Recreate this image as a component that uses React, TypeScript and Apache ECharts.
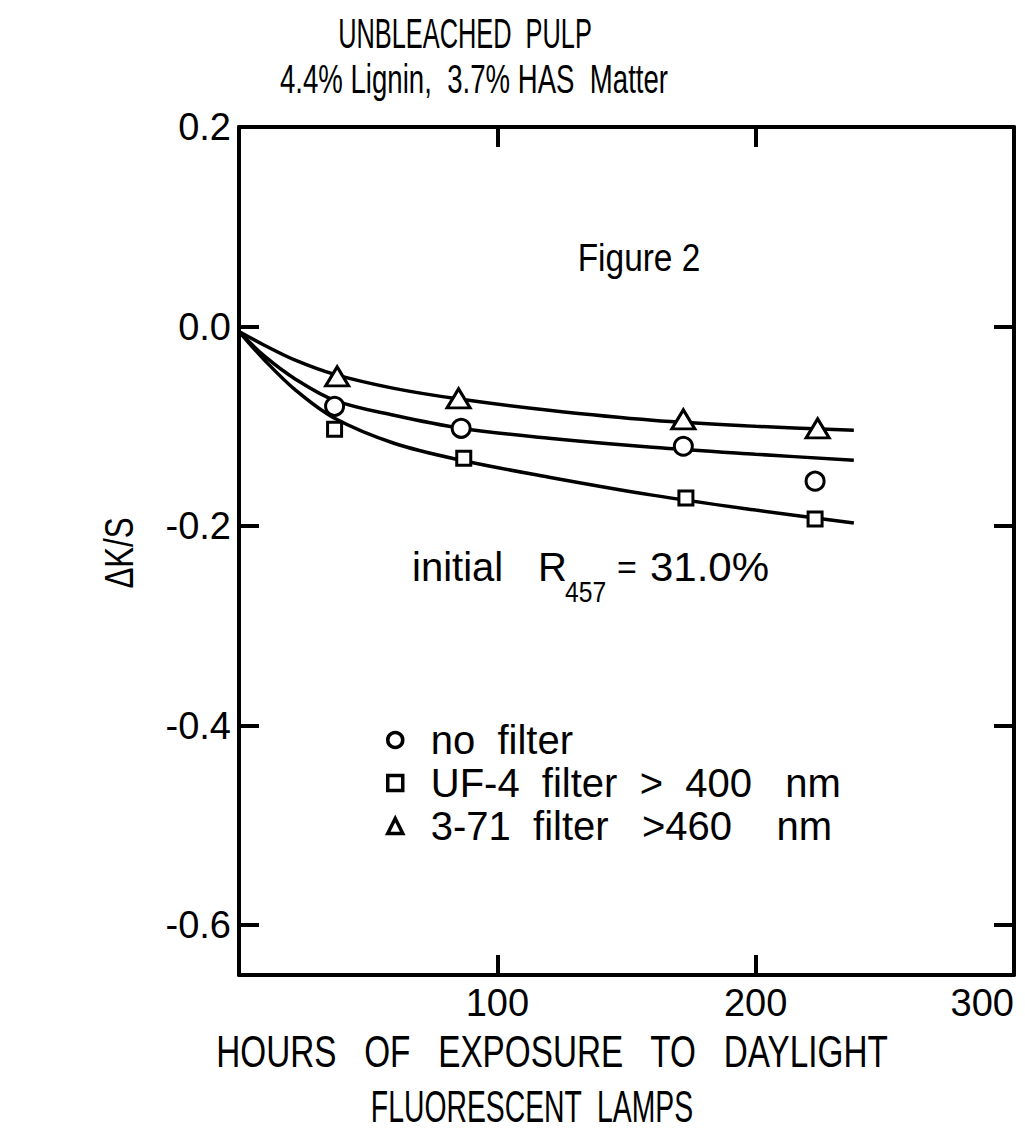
import React, { useEffect, useRef } from "react";
import * as echarts from "echarts";

const FONT = "'Liberation Sans', Arial, sans-serif";

const xTicks = [100, 200, 300];
const yTicks = [-0.6, -0.4, -0.2, 0, 0.2];

const seriesNames = ["no filter", "UF-4 filter > 400 nm", "3-71 filter >460 nm"];
const legendDisplay: Record<string, string> = {
  "no filter": "no  filter",
  "UF-4 filter > 400 nm": "UF-4  filter  >  400   nm",
  "3-71 filter >460 nm": "3-71  filter   >460    nm",
};

const noFilterPts = [[37, -0.080], [86, -0.102], [172, -0.120], [223, -0.155]];
const uf4Pts = [[37, -0.103], [87, -0.132], [173, -0.172], [223, -0.193]];
const f371Pts = [[38, -0.050], [85, -0.072], [172, -0.093], [224, -0.102]];

const curveX = [0, 10, 22, 37, 60, 86, 120, 160, 200, 238];
const curveNoFilter = [-0.005, -0.030, -0.053, -0.074, -0.089, -0.102, -0.112, -0.121, -0.128, -0.134];
const curveUF4 = [-0.005, -0.034, -0.064, -0.092, -0.117, -0.134, -0.151, -0.169, -0.184, -0.197];
const curve371 = [-0.005, -0.019, -0.034, -0.048, -0.062, -0.073, -0.084, -0.094, -0.100, -0.104];

const zip = (xs: number[], ys: number[]) => xs.map((x, i) => [x, ys[i]]);

export default function App() {
  const ref = useRef<HTMLDivElement>(null);
  useEffect(() => {
    if (!ref.current) return;
    const chart = echarts.init(ref.current, null, { renderer: "svg" });
    const black = "#000";
    const lineSeries = (data: number[][]) => ({
      type: "line",
      data,
      smooth: 0.35,
      showSymbol: false,
      symbol: "none",
      lineStyle: { color: black, width: 3.5 },
      silent: true,
      z: 2,
    });
    const scatter = (name: string, symbol: string, size: number | number[], data: number[][]) => ({
      type: "scatter",
      name,
      symbol,
      symbolSize: size,
      data,
      itemStyle: { color: "#fff", borderColor: black, borderWidth: 3, opacity: 1 },
      z: 3,
    });
    const txt = (text: string, x: number, y: number, size: number, sx = 1, extra: any = {}) => ({
      type: "text",
      x,
      y,
      scaleX: sx,
      ...extra,
      style: { text, font: `${size}px ${FONT}`, fill: black, align: extra.align || "center", verticalAlign: "middle" },
    });
    const axisCommon = {
      axisLine: { onZero: false, lineStyle: { color: black, width: 4 } },
      splitLine: { show: false },
    };
    const tick = { inside: true, length: 20, lineStyle: { color: black, width: 4 } };
    const option: any = {
      animation: false,
      backgroundColor: "#fff",
      textStyle: { fontFamily: FONT, color: black },
      grid: { left: 239, right: 11, top: 127, bottom: 173 },
      xAxis: [
        {
          type: "value", min: 0, max: 300, interval: 100, position: "bottom",
          ...axisCommon,
          axisTick: tick,
          axisLabel: {
            customValues: xTicks, fontSize: 38, fontFamily: FONT, color: black, margin: 9,
            alignMaxLabel: "right",
            formatter: (v: number) => String(v),
          },
        },
        {
          type: "value", min: 0, max: 300, interval: 100, position: "top",
          ...axisCommon,
          axisTick: tick,
          axisLabel: { show: false },
        },
      ],
      yAxis: [
        {
          type: "value", min: -0.65, max: 0.2, position: "left",
          ...axisCommon,
          axisTick: { ...tick, customValues: yTicks },
          axisLabel: {
            customValues: yTicks, fontSize: 38, fontFamily: FONT, color: black, margin: 8,
            formatter: (v: number) => v.toFixed(1),
          },
        },
        {
          type: "value", min: -0.65, max: 0.2, position: "right",
          ...axisCommon,
          axisTick: { ...tick, customValues: yTicks },
          axisLabel: { show: false },
        },
      ],
      legend: {
        data: seriesNames,
        orient: "vertical",
        left: 381,
        top: 715,
        itemWidth: 15,
        itemHeight: 15,
        itemGap: 3,
        itemStyle: { borderWidth: 3.5, borderColor: black, color: "#fff" },
        formatter: (name: string) => legendDisplay[name] || name,
        textStyle: { fontSize: 40, fontFamily: FONT, color: black, padding: [0, 0, 0, 23] },
        selectedMode: false,
      },
      series: [
        lineSeries(zip(curveX, curve371)),
        lineSeries(zip(curveX, curveNoFilter)),
        lineSeries(zip(curveX, curveUF4)),
        scatter(seriesNames[0], "circle", 18, noFilterPts),
        scatter(seriesNames[1], "rect", 14, uf4Pts),
        scatter(seriesNames[2], "triangle", [23, 19], f371Pts),
      ],
      graphic: [
        txt("UNBLEACHED  PULP", 465, 33, 43, 0.59),
        txt("4.4% Lignin,  3.7% HAS  Matter", 474, 79, 40, 0.69),
        txt("Figure 2", 639, 258, 38, 0.88),
        txt("ΔK/S", 120, 553, 40, 0.78, { rotation: Math.PI / 2 }),
        txt("initial", 412, 567, 40, 1, { align: "left" }),
        txt("R", 538, 567, 40, 1, { align: "left" }),
        txt("457", 565, 592, 29, 0.85, { align: "left" }),
        txt("=", 617, 567, 34, 1, { align: "left" }),
        txt("31.0%", 650, 567, 40, 1.05, { align: "left" }),
        txt("HOURS   OF   EXPOSURE   TO   DAYLIGHT", 552, 1051, 45, 0.74),
        txt("FLUORESCENT  LAMPS", 532, 1106, 45, 0.63),
      ],
    };
    chart.setOption(option);
    return () => chart.dispose();
  }, []);
  return <div ref={ref} style={{ position: "fixed", left: 0, top: 0, width: 1025, height: 1148, background: "#fff" }} />;
}
